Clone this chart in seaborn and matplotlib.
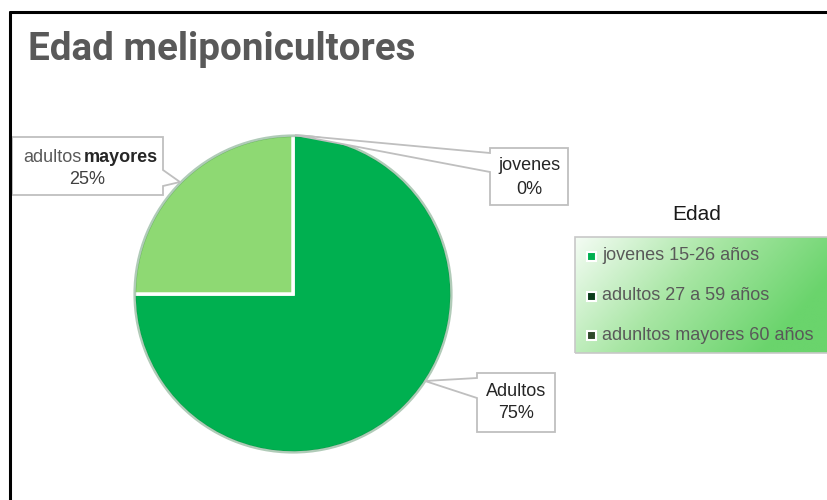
import numpy as np
import matplotlib
matplotlib.use("Agg")
import matplotlib.pyplot as plt
import seaborn as sns
from matplotlib.patches import Polygon, Rectangle
from matplotlib.colors import LinearSegmentedColormap
from matplotlib.lines import Line2D

sns.set_style("white")
plt.rcParams['font.family'] = ['Liberation Sans', 'DejaVu Sans']

# ---- data ----
title = "Edad meliponicultores"
slice_names = ["jovenes", "Adultos", "adultos mayores"]
slice_values = [0, 75, 25]
slice_pct = ["0%", "75%", "25%"]
slice_colors = ["#00B050", "#00B050", "#8ED973"]
legend_title = "Edad"
legend_labels = ["jovenes 15-26 años", "adultos 27 a 59 años", "adunltos mayores 60 años"]
legend_colors = ["#00B050", "#0B3D1C", "#2F4A2A"]

W, H = 827, 500
CX, CY, R = 293, 294, 159

fig = plt.figure(figsize=(W / 100, H / 100), dpi=100)
ax = fig.add_axes([0, 0, 1, 1])


def P(x, y):
    return ((x - CX) / R, (CY - y) / R)


def fix_limits():
    ax.set_xlim(-CX / R, (W - CX) / R)
    ax.set_ylim(-(H - CY) / R, CY / R)
    ax.set_aspect("auto")
    ax.axis("off")


# pie
wedges, _ = ax.pie(slice_values, colors=sns.color_palette(slice_colors), startangle=90,
                   counterclock=False, radius=1.0, center=(0, 0),
                   wedgeprops=dict(edgecolor="white", linewidth=2.5))
# subtle rim shading
ax.pie([1], colors=["none"], radius=0.995, startangle=90,
       wedgeprops=dict(edgecolor="#1e6b34", linewidth=2.0, fill=False, alpha=0.35))
fix_limits()

# callouts
def callout(pts, z=4):
    poly = Polygon([P(*p) for p in pts], closed=True, facecolor="white",
                   edgecolor="#bfbfbf", linewidth=1.3, zorder=z)
    ax.add_patch(poly)

callout([(12, 137), (163, 137), (163, 170), (180, 182), (163, 186), (163, 195), (12, 195)])
callout([(490, 148), (568, 148), (568, 205), (490, 205), (490, 172), (295, 135), (490, 153)])
callout([(477, 373), (555, 373), (555, 432), (477, 432), (477, 398), (425, 381), (477, 378)])

lab_fs = 13
# adultos mayores
ax.text(*P(81, 157), "adultos", ha="right", va="center", fontsize=lab_fs, color="#595959", zorder=5)
ax.text(*P(84, 157), "mayores", ha="left", va="center", fontsize=lab_fs, color="#262626",
        fontweight="semibold", zorder=5)
ax.text(*P(87, 180), slice_pct[2], ha="center", va="center", fontsize=lab_fs, color="#404040", zorder=5)
# jovenes
ax.text(*P(529, 166), slice_names[0], ha="center", va="center", fontsize=lab_fs, color="#262626", zorder=5)
ax.text(*P(529, 189), slice_pct[0], ha="center", va="center", fontsize=lab_fs, color="#262626", zorder=5)
# Adultos
ax.text(*P(516, 391), slice_names[1], ha="center", va="center", fontsize=lab_fs, color="#262626", zorder=5)
ax.text(*P(516, 414), slice_pct[1], ha="center", va="center", fontsize=lab_fs, color="#262626", zorder=5)

# title
fig.text(28 / W, 1 - 50 / H, title, ha="left", va="center", fontsize=27.8, fontweight="bold",
         color="#595959", family=["Roboto", "Liberation Sans", "DejaVu Sans"])

# legend with gradient background
lx0, ly0, lx1, ly1 = 575, 237, 830, 353
nx, ny = 200, 100
u = np.linspace(0, 1, nx)[None, :]
v = np.linspace(0, 1, ny)[:, None]
t = np.clip(0.02 + 0.85 * u + 0.35 * v, 0, 1)
cmap = LinearSegmentedColormap.from_list("g", ["#f4fcf4", "#a8e6a4", "#6ad46c"])
x0d, y0d = P(lx0, ly0)
x1d, y1d = P(lx1, ly1)
ax.imshow(t, cmap=cmap, extent=(x0d, x1d, y1d, y0d), origin="upper", aspect="auto", zorder=2,
          interpolation="bilinear")
ax.add_patch(Rectangle((x0d, y1d), x1d - x0d, y0d - y1d, facecolor="none", edgecolor="#c8c8c8",
                       linewidth=1.2, zorder=3))
fix_limits()

ax.text(*P(697, 215), legend_title, ha="center", va="center", fontsize=15, color="#1a1a1a", zorder=5)
rows_y = [256, 296, 335]
for lab, col, yy in zip(legend_labels, legend_colors, rows_y):
    s = 9 / R
    mx, my = P(591, yy)
    ax.add_patch(Rectangle((mx - s / 2, my - s / 2), s, s, facecolor=col, edgecolor="white",
                           linewidth=1.5, zorder=5))
    ax.text(*P(602, yy), lab, ha="left", va="center", fontsize=13, color="#595959", zorder=5)

# chart frame (top and left border)
fig.add_artist(Line2D([10 / W, 10 / W], [0, 1 - 12 / H], color="black", linewidth=2.2,
                      transform=fig.transFigure))
fig.add_artist(Line2D([10 / W, 1], [1 - 12 / H, 1 - 12 / H], color="black", linewidth=2.2,
                      transform=fig.transFigure))

fig.savefig("out.png", dpi=100)
